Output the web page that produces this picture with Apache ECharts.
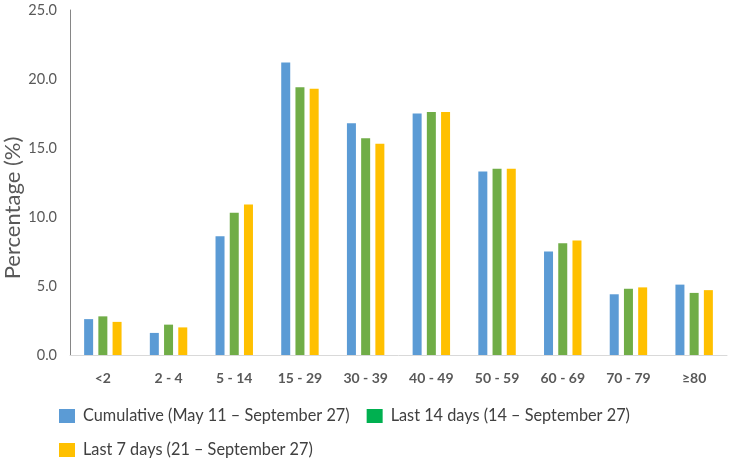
<!DOCTYPE html>
<html>
<head>
<meta charset="utf-8">
<script src="https://cdn.jsdelivr.net/npm/echarts@6/dist/echarts.min.js"></script>
<style>
  html, body { margin: 0; padding: 0; background: #fff; }
  #chart { width: 730px; height: 460px; }
</style>
</head>
<body>
<div id="chart"></div>
<script>
var ageGroups = ['<2', '2 - 4', '5 - 14', '15 - 29', '30 - 39', '40 - 49', '50 - 59', '60 - 69', '70 - 79', '≥80'];
var cumulative = [2.6, 1.6, 8.6, 21.2, 16.8, 17.5, 13.3, 7.5, 4.4, 5.1];
var last14 = [2.8, 2.2, 10.3, 19.4, 15.7, 17.6, 13.5, 8.1, 4.8, 4.5];
var last7 = [2.4, 2.0, 10.9, 19.3, 15.3, 17.6, 13.5, 8.3, 4.9, 4.7];
var yTicks = [0, 5, 10, 15, 20, 25];

var seriesNames = [
  'Cumulative (May 11 – September 27)',
  'Last 14 days (14 – September 27)',
  'Last 7 days (21 – September 27)'
];

var chart = echarts.init(document.getElementById('chart'));
var fontFam = 'Lato';

var legendText = { fontSize: 16.3, color: '#404040', padding: [0, 0, 0, 3] };

var option = {
  animation: false,
  textStyle: { fontFamily: fontFam },
  color: ['#5B9BD5', '#70AD47', '#FFC000'],
  grid: { left: 70, right: 3, top: 10, bottom: 105, outerBoundsMode: 'none' },
  legend: [{
    left: 54, top: 403,
    icon: 'rect', itemWidth: 16, itemHeight: 14, itemGap: 17,
    textStyle: legendText,
    data: [
      { name: seriesNames[0] },
      { name: seriesNames[1], itemStyle: { color: '#00B050' } }
    ]
  }, {
    left: 54, top: 437,
    icon: 'rect', itemWidth: 16, itemHeight: 14,
    textStyle: legendText,
    data: [seriesNames[2]]
  }],
  // y axis title sits lower than the plot middle in the original
  graphic: [{
    type: 'text',
    x: 13, y: 208,
    rotation: Math.PI / 2,
    style: {
      text: 'Percentage (%)',
      fontFamily: fontFam, fontSize: 22, fill: '#595959',
      align: 'center', verticalAlign: 'middle'
    }
  }],
  xAxis: {
    type: 'category',
    data: ageGroups,
    axisLine: { lineStyle: { color: '#d9d9d9' } },
    axisTick: { show: false },
    axisLabel: { margin: 16, fontSize: 14, fontWeight: 'bold', color: '#595959' }
  },
  yAxis: {
    type: 'value',
    min: yTicks[0],
    max: yTicks[yTicks.length - 1],
    interval: 5,
    axisLine: { show: true, lineStyle: { color: '#868686' } },
    axisTick: { show: false },
    splitLine: { show: false },
    axisLabel: {
      margin: 13, fontSize: 14.5, color: '#595959',
      formatter: function (v) { return v.toFixed(1); }
    }
  },
  series: [
    { name: seriesNames[0], type: 'bar', data: cumulative, barWidth: 9, barGap: '58%' },
    { name: seriesNames[1], type: 'bar', data: last14, barWidth: 9, barGap: '58%' },
    { name: seriesNames[2], type: 'bar', data: last7, barWidth: 9, barGap: '58%' }
  ]
};

chart.setOption(option);
</script>
</body>
</html>
